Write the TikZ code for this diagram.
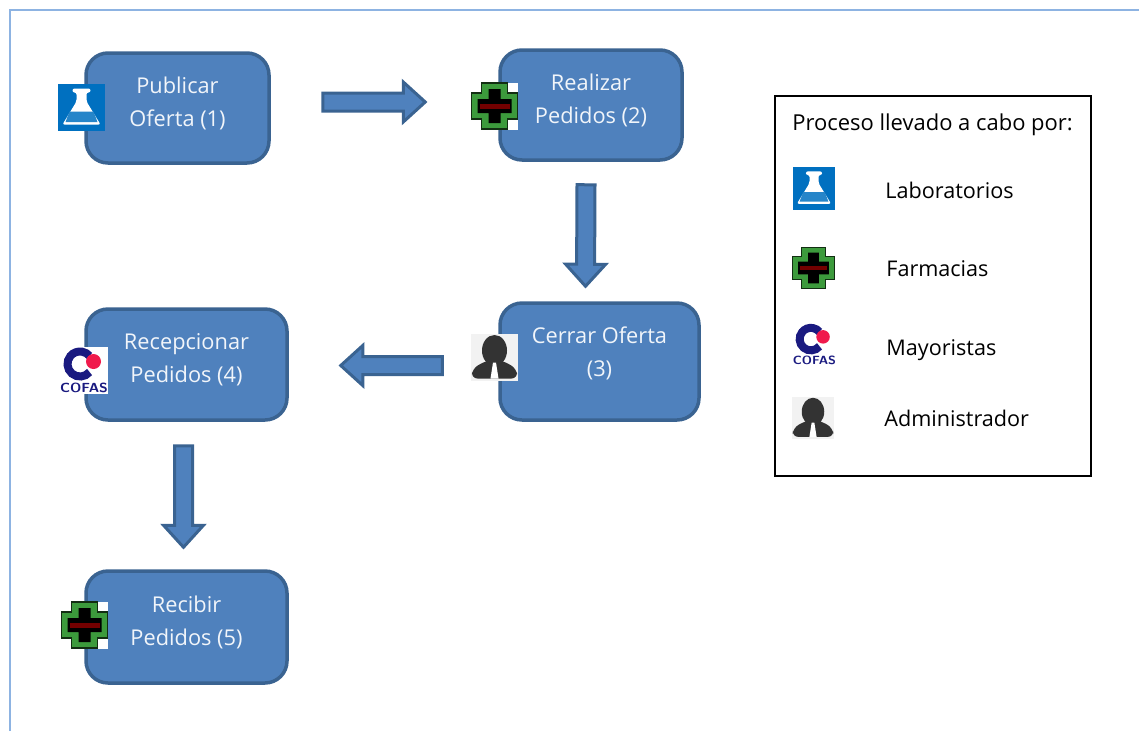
\documentclass[tikz,border=0pt]{standalone}
\usepackage{fontspec}
\setmainfont{Open Sans}
\usetikzlibrary{calc}
\newcommand{\upx}{0.02cm}
\definecolor{azulcaja}{HTML}{4F81BD}
\definecolor{bordecaja}{HTML}{3A6391}
\definecolor{marco}{HTML}{8DB3E2}
\definecolor{azullab}{HTML}{0070C0}
\definecolor{verdecruz}{HTML}{3C9A3C}
\definecolor{navycofas}{HTML}{1A1A80}
\definecolor{rojocofas}{HTML}{F01A4C}
\tikzset{
	caja/.style={draw=bordecaja, fill=azulcaja, line width=3.5*\upx, rounded corners=22*\upx, text=white!92!azulcaja, align=center, font=\fontsize{12.4}{18.7}\selectfont, text depth=13*\upx},
	leyenda/.style={anchor=west, inner sep=0pt, font=\fontsize{12.3}{14}\selectfont},
	flecha/.style={draw=bordecaja, fill=azulcaja, line width=3*\upx, to path={
		-- ($(\tikztostart)!9*\upx!90:(\tikztotarget)$)
		-- ($(\tikztotarget)!22*\upx!(\tikztostart)!9*\upx!90:(\tikztotarget)$)
		-- ($(\tikztotarget)!22*\upx!(\tikztostart)!20*\upx!90:(\tikztotarget)$)
		-- (\tikztotarget)
		-- ($(\tikztotarget)!22*\upx!(\tikztostart)!20*\upx!-90:(\tikztotarget)$)
		-- ($(\tikztotarget)!22*\upx!(\tikztostart)!9*\upx!-90:(\tikztotarget)$)
		-- ($(\tikztostart)!9*\upx!-90:(\tikztotarget)$)
		-- cycle}},
	pics/matraz/.style={code={
		\fill[azullab] (-23.5,-23.5) rectangle (23.5,23.5);
		\fill[white, rounded corners=2*\upx] (-9,-19) -- (9,-19) -- (9,-15) -- (5,-15) -- (5,-6) -- (19,17) -- (-19,17) -- (-5,-6) -- (-5,-15) -- (-9,-15) -- cycle;
		\fill[azullab!85!white] (-12,4) -- (12,4) -- (16,14.5) -- (-16,14.5) -- cycle;
	}},
	pics/cruz/.style={code={
		\fill[white] (-23.5,-23.5) rectangle (23.5,23.5);
		\filldraw[fill=verdecruz, draw=black!70!verdecruz, line width=1.2*\upx] (-13,-23) -- (13,-23) -- (13,-13) -- (23,-13) -- (23,13) -- (13,13) -- (13,23) -- (-13,23) -- (-13,13) -- (-23,13) -- (-23,-13) -- (-13,-13) -- cycle;
		\fill[black] (-6,-17) -- (6,-17) -- (6,-7) -- (17,-7) -- (17,7) -- (6,7) -- (6,17) -- (-6,17) -- (-6,7) -- (-17,7) -- (-17,-7) -- (-6,-7) -- cycle;
		\fill[red!45!black] (-15,-2.5) rectangle (15,2.5);
	}},
	pics/cofas/.style={code={
		\fill[white] (-24,-23.5) rectangle (24,23.5);
		\draw[navycofas, line width=8*\upx] (-4,-6) ++(40:12.5) arc (40:320:12.5);
		\fill[rojocofas] (9.5,-8.5) circle (7.5);
		\node[text=navycofas, inner sep=0pt, transform shape, xscale=1.08, font=\sffamily\bfseries\fontsize{7.5}{7.5}\selectfont] (-marca) at (0,18) {COFAS};
	}},
	pics/persona/.style={code={
		\fill[black!5] (-23.5,-23.5) rectangle (23.5,23.5);
		\fill[black!80] (0,-7) ellipse (12.5 and 15.5);
		\fill[black!80, rounded corners=6*\upx] (-23,21) -- (-22,11) -- (-8,3) -- (8,3) -- (22,11) -- (23,21) -- cycle;
		\fill[white] (-1.5,5) -- (1.5,5) -- (4,21) -- (-4,21) -- cycle;
	}},
}
\begin{document}
\begin{tikzpicture}[x=\upx, y=-\upx]
	\useasboundingbox (0,0) rectangle (1139,731);
	\draw[marco, line width=1.5*\upx] (10,731) -- (10,10) -- (1139,10);
	% cajas
	\node[caja, minimum width=183*\upx, minimum height=110*\upx] (publicar) at (177.5,108) {Publicar\\Oferta (1)};
	\node[caja, minimum width=182*\upx, minimum height=110*\upx] (realizar) at (591,105) {Realizar\\Pedidos (2)};
	\node[caja, minimum width=199*\upx, minimum height=117*\upx, text depth=20*\upx] (cerrar) at (599.5,361.5) {Cerrar Oferta\\(3)};
	\node[caja, minimum width=201*\upx, minimum height=111*\upx] (recepcionar) at (186.5,364.5) {Recepcionar\\Pedidos (4)};
	\node[caja, minimum width=201*\upx, minimum height=112*\upx] (recibir) at (186.5,627) {Recibir\\Pedidos (5)};
	% flechas
	\draw[flecha] ([shift={(52,-6)}]publicar.east) to ([shift={(-73,-3)}]realizar.west);
	\draw[flecha] ([shift={(-5,23)}]realizar.south) to ([shift={(-14,-15)}]cerrar.north);
	\draw[flecha] ([shift={(-56,4)}]cerrar.west) to ([shift={(52,1)}]recepcionar.east);
	\draw[flecha] ([shift={(-3,24)}]recepcionar.south) to ([shift={(-3,-22)}]recibir.north);
	% iconos
	\pic (iconouno) at (81.5,107.5) {matraz};
	\pic (iconodos) at (494.5,106) {cruz};
	\pic (iconotres) at (494.5,357.5) {persona};
	\pic (iconocuatro) at (84,370) {cofas};
	\pic (iconocinco) at (84.5,625) {cruz};
	% leyenda
	\node[draw=black, line width=1.1*\upx, minimum width=316*\upx, minimum height=380*\upx] (cuadro) at (933,286) {};
	\node[leyenda, font=\fontsize{12.5}{14}\selectfont] (titulo) at (792,125) {Proceso llevado a cabo por:};
	\pic[scale=0.9] (leyuno) at (814,188.5) {matraz};
	\pic[scale=0.9] (leydos) at (813.5,268) {cruz};
	\pic[scale=0.9] (leytres) at (814.5,344.5) {cofas};
	\pic[scale=0.9] (leycuatro) at (813,418) {persona};
	\node[leyenda] (laboratorios) at (885,190) {Laboratorios};
	\node[leyenda] (farmacias) at (886,269) {Farmacias};
	\node[leyenda] (mayoristas) at (886,350) {Mayoristas};
	\node[leyenda] (administrador) at (884,418) {Administrador};
\end{tikzpicture}
\end{document}
